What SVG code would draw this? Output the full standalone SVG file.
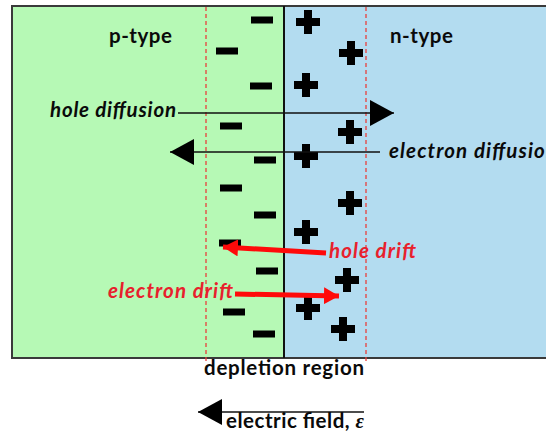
<svg xmlns="http://www.w3.org/2000/svg" width="546" height="435" viewBox="0 0 546 435">
  <style>
    .lbl { font-family: Lato, "Open Sans", "Liberation Sans", sans-serif; font-weight: bold; font-size: 20.5px; fill: #0a0a0a; }
    .it { font-style: italic; }
    .red { fill: #e8202c; }
    .dash { stroke: #e8403c; stroke-width: 1.3; stroke-dasharray: 4 3; fill: none; }
    .blk { stroke: #111; stroke-width: 1.5; fill: none; }
    .redln { stroke: #ff0a0a; stroke-width: 5; fill: none; }
  </style>
  <defs>
    <marker id="ah" markerUnits="userSpaceOnUse" markerWidth="24" markerHeight="26" refX="24" refY="13" orient="auto">
      <path d="M0,0 L24,13 L0,26 z" fill="#000"/>
    </marker>
    <marker id="ahr" markerUnits="userSpaceOnUse" markerWidth="15" markerHeight="17" refX="15" refY="8.5" orient="auto">
      <path d="M0,0 L15,8.5 L0,17 z" fill="#ff0a0a"/>
    </marker>
    <rect id="minus" x="-11" y="-3.5" width="22" height="7" fill="#000"/>
    <path id="plus" d="M-4,-12 H4 V-4 H12 V4 H4 V12 H-4 V4 H-12 V-4 H-4 z" fill="#000"/>
  </defs>

  <rect x="0" y="0" width="546" height="435" fill="#fff"/>

  <g id="p-type">
    <rect x="12" y="6" width="272" height="352" fill="#b6f9b5"/>
    <text class="lbl" x="109" y="43" textLength="63">p-type</text>
  </g>

  <g id="n-type">
    <rect x="284" y="6" width="280" height="352" fill="#b3dcf0"/>
    <text class="lbl" x="390" y="43" textLength="63">n-type</text>
  </g>

  <g id="frame">
    <rect x="12" y="6" width="560" height="352" fill="none" stroke="#3a3a3a" stroke-width="2"/>
    <line x1="284" y1="6" x2="284" y2="358" stroke="#111" stroke-width="2"/>
  </g>

  <g id="depletion-region">
    <line class="dash" x1="206" y1="7" x2="206" y2="361"/>
    <line class="dash" x1="366" y1="7" x2="366" y2="361"/>
    <text class="lbl" x="204" y="375" textLength="160">depletion region</text>
  </g>

  <g id="negative-ions">
    <use href="#minus" x="262" y="20"/>
    <use href="#minus" x="227" y="51"/>
    <use href="#minus" x="261" y="86"/>
    <use href="#minus" x="231" y="126"/>
    <use href="#minus" x="265" y="160"/>
    <use href="#minus" x="231" y="188"/>
    <use href="#minus" x="265" y="215"/>
    <use href="#minus" x="230" y="243"/>
    <use href="#minus" x="267" y="271"/>
    <use href="#minus" x="234" y="312"/>
    <use href="#minus" x="264" y="334"/>
  </g>

  <g id="positive-ions">
    <use href="#plus" x="308" y="22"/>
    <use href="#plus" x="351" y="53"/>
    <use href="#plus" x="306" y="85"/>
    <use href="#plus" x="350" y="132"/>
    <use href="#plus" x="306" y="156"/>
    <use href="#plus" x="350" y="203"/>
    <use href="#plus" x="306" y="232"/>
    <use href="#plus" x="347" y="280"/>
    <use href="#plus" x="308" y="308"/>
    <use href="#plus" x="343" y="329"/>
  </g>

  <g id="connectors">
    <line class="blk" x1="178" y1="113" x2="394" y2="113" marker-end="url(#ah)"/>
    <text class="lbl it" x="50" y="117" textLength="126">hole diffusion</text>

    <line class="blk" x1="380" y1="152" x2="170" y2="152" marker-end="url(#ah)"/>
    <text class="lbl it" x="389" y="158" textLength="168">electron diffusion</text>

    <line class="redln" x1="326" y1="253" x2="223" y2="247" marker-end="url(#ahr)"/>
    <text class="lbl it red" x="329" y="258" textLength="87">hole drift</text>

    <line class="redln" x1="235" y1="294" x2="339" y2="296" marker-end="url(#ahr)"/>
    <text class="lbl it red" x="108" y="298" textLength="125">electron drift</text>

    <line class="blk" x1="364" y1="412" x2="198" y2="412" marker-end="url(#ah)"/>
    <text class="lbl" x="226" y="428" textLength="138">electric field, <tspan class="it" font-family="'Liberation Serif', serif">ε</tspan></text>
  </g>
</svg>
